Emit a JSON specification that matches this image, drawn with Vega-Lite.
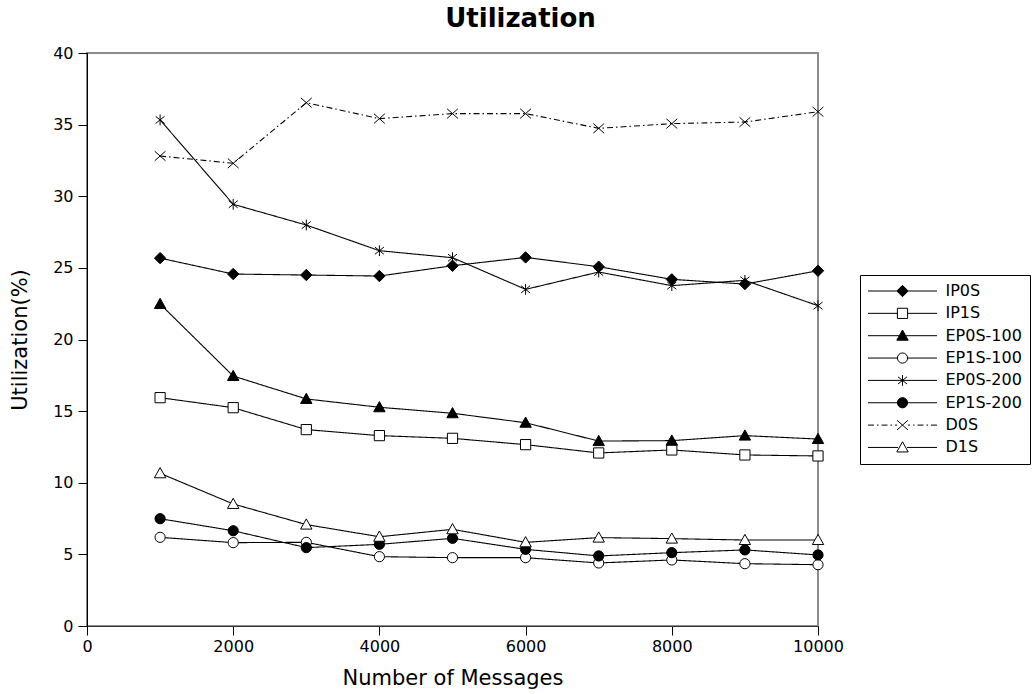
{
  "$schema": "https://vega.github.io/schema/vega-lite/v6.json",
  "width": 731,
  "height": 573,
  "autosize": {"type": "none"},
  "padding": {"left": 87, "top": 53, "right": 217, "bottom": 68},
  "background": "white",
  "title": {"text": "Utilization", "font": "DejaVu Sans", "fontSize": 26, "fontWeight": "bold", "color": "black", "anchor": "middle", "dx": 68, "offset": 13},
  "config": {
    "view": {"stroke": "#8c8c8c", "strokeWidth": 2},
    "font": "DejaVu Sans",
    "axis": {"grid": false, "domainColor": "black", "tickColor": "black", "tickSize": 9, "labelFont": "DejaVu Sans", "labelFontSize": 16, "labelColor": "black", "titleFont": "DejaVu Sans", "titleFontSize": 21, "titleFontWeight": "normal", "titleColor": "black"}
  },
  "data": {"values": [
    {"n": 1000, "s": "IP0S", "v": 25.68}, {"n": 2000, "s": "IP0S", "v": 24.57}, {"n": 3000, "s": "IP0S", "v": 24.5}, {"n": 4000, "s": "IP0S", "v": 24.43}, {"n": 5000, "s": "IP0S", "v": 25.15}, {"n": 6000, "s": "IP0S", "v": 25.73}, {"n": 7000, "s": "IP0S", "v": 25.08}, {"n": 8000, "s": "IP0S", "v": 24.2}, {"n": 9000, "s": "IP0S", "v": 23.87}, {"n": 10000, "s": "IP0S", "v": 24.8},
    {"n": 1000, "s": "IP1S", "v": 15.94}, {"n": 2000, "s": "IP1S", "v": 15.24}, {"n": 3000, "s": "IP1S", "v": 13.71}, {"n": 4000, "s": "IP1S", "v": 13.29}, {"n": 5000, "s": "IP1S", "v": 13.1}, {"n": 6000, "s": "IP1S", "v": 12.66}, {"n": 7000, "s": "IP1S", "v": 12.08}, {"n": 8000, "s": "IP1S", "v": 12.29}, {"n": 9000, "s": "IP1S", "v": 11.94}, {"n": 10000, "s": "IP1S", "v": 11.87},
    {"n": 1000, "s": "EP0S-100", "v": 22.48}, {"n": 2000, "s": "EP0S-100", "v": 17.45}, {"n": 3000, "s": "EP0S-100", "v": 15.85}, {"n": 4000, "s": "EP0S-100", "v": 15.27}, {"n": 5000, "s": "EP0S-100", "v": 14.85}, {"n": 6000, "s": "EP0S-100", "v": 14.19}, {"n": 7000, "s": "EP0S-100", "v": 12.91}, {"n": 8000, "s": "EP0S-100", "v": 12.94}, {"n": 9000, "s": "EP0S-100", "v": 13.29}, {"n": 10000, "s": "EP0S-100", "v": 13.05},
    {"n": 1000, "s": "EP1S-100", "v": 6.19}, {"n": 2000, "s": "EP1S-100", "v": 5.82}, {"n": 3000, "s": "EP1S-100", "v": 5.84}, {"n": 4000, "s": "EP1S-100", "v": 4.84}, {"n": 5000, "s": "EP1S-100", "v": 4.77}, {"n": 6000, "s": "EP1S-100", "v": 4.77}, {"n": 7000, "s": "EP1S-100", "v": 4.4}, {"n": 8000, "s": "EP1S-100", "v": 4.61}, {"n": 9000, "s": "EP1S-100", "v": 4.35}, {"n": 10000, "s": "EP1S-100", "v": 4.28},
    {"n": 1000, "s": "EP0S-200", "v": 35.33}, {"n": 2000, "s": "EP0S-200", "v": 29.44}, {"n": 3000, "s": "EP0S-200", "v": 27.99}, {"n": 4000, "s": "EP0S-200", "v": 26.2}, {"n": 5000, "s": "EP0S-200", "v": 25.71}, {"n": 6000, "s": "EP0S-200", "v": 23.5}, {"n": 7000, "s": "EP0S-200", "v": 24.71}, {"n": 8000, "s": "EP0S-200", "v": 23.76}, {"n": 9000, "s": "EP0S-200", "v": 24.13}, {"n": 10000, "s": "EP0S-200", "v": 22.36},
    {"n": 1000, "s": "EP1S-200", "v": 7.49}, {"n": 2000, "s": "EP1S-200", "v": 6.65}, {"n": 3000, "s": "EP1S-200", "v": 5.47}, {"n": 4000, "s": "EP1S-200", "v": 5.7}, {"n": 5000, "s": "EP1S-200", "v": 6.12}, {"n": 6000, "s": "EP1S-200", "v": 5.35}, {"n": 7000, "s": "EP1S-200", "v": 4.89}, {"n": 8000, "s": "EP1S-200", "v": 5.12}, {"n": 9000, "s": "EP1S-200", "v": 5.31}, {"n": 10000, "s": "EP1S-200", "v": 4.96},
    {"n": 1000, "s": "D0S", "v": 32.81}, {"n": 2000, "s": "D0S", "v": 32.3}, {"n": 3000, "s": "D0S", "v": 36.53}, {"n": 4000, "s": "D0S", "v": 35.42}, {"n": 5000, "s": "D0S", "v": 35.77}, {"n": 6000, "s": "D0S", "v": 35.77}, {"n": 7000, "s": "D0S", "v": 34.74}, {"n": 8000, "s": "D0S", "v": 35.07}, {"n": 9000, "s": "D0S", "v": 35.18}, {"n": 10000, "s": "D0S", "v": 35.9},
    {"n": 1000, "s": "D1S", "v": 10.66}, {"n": 2000, "s": "D1S", "v": 8.52}, {"n": 3000, "s": "D1S", "v": 7.08}, {"n": 4000, "s": "D1S", "v": 6.23}, {"n": 5000, "s": "D1S", "v": 6.75}, {"n": 6000, "s": "D1S", "v": 5.84}, {"n": 7000, "s": "D1S", "v": 6.17}, {"n": 8000, "s": "D1S", "v": 6.1}, {"n": 9000, "s": "D1S", "v": 6.0}, {"n": 10000, "s": "D1S", "v": 6.0}
  ]},
  "encoding": {
    "x": {"field": "n", "type": "quantitative", "title": "Number of Messages", "scale": {"domain": [0, 10000], "nice": false}, "axis": {"values": [0, 2000, 4000, 6000, 8000, 10000], "format": "d", "labelPadding": 3, "titlePadding": 13, "domainColor": "#333333", "labelFlush": false}},
    "y": {"field": "v", "type": "quantitative", "title": "Utilization(%)", "scale": {"domain": [0, 40], "nice": false}, "axis": {"values": [0, 5, 10, 15, 20, 25, 30, 35, 40], "labelPadding": 5, "titlePadding": 22, "labelFlush": false}}
  },
  "layer": [
    {
      "mark": {"type": "line", "color": "black", "strokeWidth": 1.1},
      "encoding": {
        "detail": {"field": "s"},
        "strokeDash": {"field": "s", "type": "nominal", "legend": null, "scale": {"domain": ["IP0S", "IP1S", "EP0S-100", "EP1S-100", "EP0S-200", "EP1S-200", "D0S", "D1S"], "range": [[1, 0], [1, 0], [1, 0], [1, 0], [1, 0], [1, 0], [6, 3, 1.5, 3], [1, 0]]}}
      }
    },
    {
      "mark": {"type": "point", "filled": true, "stroke": "black", "strokeWidth": 1, "size": 144, "opacity": 1},
      "encoding": {
        "shape": {"field": "s", "type": "nominal", "legend": null, "scale": {"domain": ["IP0S", "IP1S", "EP0S-100", "EP1S-100", "EP0S-200", "EP1S-200", "D0S", "D1S"], "range": [
          "M0,-0.95L0.95,0L0,0.95L-0.95,0Z",
          "M-0.85,-0.85H0.85V0.85H-0.85Z",
          "M0,-0.95L0.95,0.75L-0.95,0.75Z",
          "M0.85,0A0.85,0.85,0,1,1,-0.85,0A0.85,0.85,0,1,1,0.85,0Z",
          "M0,-0.9V0.9M-0.75,-0.6L0.75,0.6M-0.75,0.6L0.75,-0.6",
          "M0.85,0A0.85,0.85,0,1,1,-0.85,0A0.85,0.85,0,1,1,0.85,0Z",
          "M-0.9,-0.8L0.9,0.8M-0.9,0.8L0.9,-0.8",
          "M0,-0.95L0.95,0.75L-0.95,0.75Z"
        ]}},
        "fill": {"field": "s", "type": "nominal", "legend": null, "scale": {"domain": ["IP0S", "IP1S", "EP0S-100", "EP1S-100", "EP0S-200", "EP1S-200", "D0S", "D1S"], "range": ["black", "white", "black", "white", "black", "black", "black", "white"]}}
      }
    },
    {
      "transform": [{"filter": "false"}],
      "mark": {"type": "point", "filled": true, "strokeWidth": 1, "size": 144, "opacity": 1},
      "encoding": {
        "shape": {"field": "s", "type": "nominal",
          "legend": {"title": null, "orient": "none", "legendX": 773, "legendY": 222, "strokeColor": "black", "padding": 8, "symbolSize": 144, "symbolOffset": 26.5, "labelOffset": 35, "labelFont": "DejaVu Sans", "labelFontSize": 16, "labelColor": "black", "rowPadding": 6.35, "symbolStrokeWidth": 1, "labelLimit": 200},
          "scale": {"domain": ["IP0S", "IP1S", "EP0S-100", "EP1S-100", "EP0S-200", "EP1S-200", "D0S", "D1S"], "range": [
          "M-5.75,0H-0.95M0.95,0H5.75M0,-0.95L0.95,0L0,0.95L-0.95,0Z",
          "M-5.75,0H-0.85M0.85,0H5.75M-0.85,-0.85H0.85V0.85H-0.85Z",
          "M-5.75,0H5.75M0,-0.95L0.95,0.75L-0.95,0.75Z",
          "M-5.75,0H-0.85M0.85,0H5.75M0.85,0A0.85,0.85,0,1,1,-0.85,0A0.85,0.85,0,1,1,0.85,0Z",
          "M-5.75,0H5.75M0,-0.9V0.9M-0.75,-0.6L0.75,0.6M-0.75,0.6L0.75,-0.6",
          "M-5.75,0H5.75M0.85,0A0.85,0.85,0,1,1,-0.85,0A0.85,0.85,0,1,1,0.85,0Z",
          "M-5.75,0H-4.75M-4.25,0H-4M-3.5,0H-2.5M-2,0H-1.75M-1.25,0H-0.9M0.9,0H1.25M1.75,0H2M2.5,0H3.5M4,0H4.25M4.75,0H5.75M-0.9,-0.8L0.9,0.8M-0.9,0.8L0.9,-0.8",
          "M-5.75,0H-0.75M0.75,0H5.75M0,-0.95L0.95,0.75L-0.95,0.75Z"
        ]}},
        "fill": {"field": "s", "type": "nominal", "scale": {"domain": ["IP0S", "IP1S", "EP0S-100", "EP1S-100", "EP0S-200", "EP1S-200", "D0S", "D1S"], "range": ["black", "white", "black", "white", "black", "black", "black", "white"]}},
        "stroke": {"field": "s", "type": "nominal", "scale": {"domain": ["IP0S", "IP1S", "EP0S-100", "EP1S-100", "EP0S-200", "EP1S-200", "D0S", "D1S"], "range": ["black", "black", "black", "black", "black", "black", "black", "black"]}}
      }
    }
  ],
  "resolve": {"scale": {"shape": "independent", "fill": "independent", "stroke": "independent", "strokeDash": "independent"}}
}
